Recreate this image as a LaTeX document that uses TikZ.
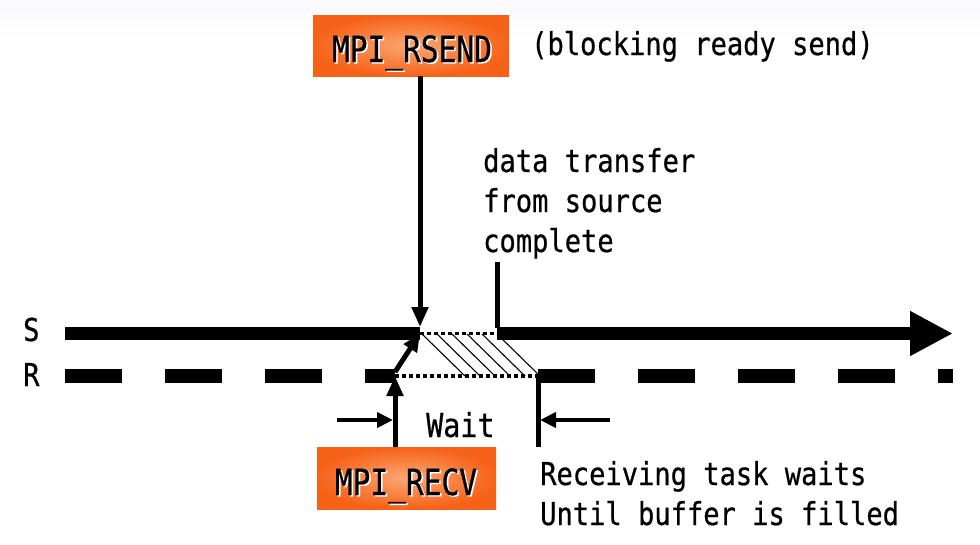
\documentclass[tikz,border=0pt]{standalone}
\usepackage{fontspec}
\usetikzlibrary{arrows.meta,calc}
\newfontfamily\txtfont[FakeStretch=0.86,FakeBold=0.6]{DejaVu Sans Mono}
\newfontfamily\bxfont[FakeStretch=0.82,FakeBold=0.6]{DejaVu Sans Mono}
\definecolor{bgtop}{RGB}{250,250,255}
\definecolor{boxout}{RGB}{247,98,25}
\definecolor{boxin}{RGB}{250,168,115}
\newcommand{\glowtxt}[1]{\makebox[0pt][l]{\hspace{1.6pt}\raisebox{-1.4pt}{\color{white}#1}}#1}
\tikzset{
  lbl/.style={anchor=base west, inner sep=0pt, font=\txtfont\fontsize{31.5}{40}\selectfont},
  boxlbl/.style={anchor=base, inner sep=0pt, font=\bxfont\fontsize{36}{40}\selectfont},
  orangebox/.style={inner sep=0pt, shading=radial, inner color=boxin, outer color=boxout},
  thickline/.style={line width=13.5pt},
  dashline/.style={line width=14pt, dash pattern=on 57pt off 43pt},
  dotline/.style={line width=3.5pt, dash pattern=on 3.5pt off 3.5pt},
  hatch/.style={line width=1.1pt},
  arrowline/.style={line width=5pt, -{Triangle[length=20pt,width=16pt]}},
  waitarrow/.style={line width=4pt, -{Triangle[length=16pt,width=15pt]}},
  tick/.style={line width=5pt},
}
\begin{document}
\begin{tikzpicture}[x=1pt,y=-1pt]
\useasboundingbox (0,0) rectangle (980,544);
\shade[top color=bgtop, bottom color=white, draw=none] (0,0) rectangle (980,40);

% named points on the S and R lines
\coordinate (sL) at (65,333.5);
\coordinate (sA) at (420,333.5);
\coordinate (sAtop) at (420,327);
\coordinate (sB) at (497,333.5);
\coordinate (sEnd) at (953,333.5);
\coordinate (tickTop) at (497,262);
\coordinate (rL) at (65,376);
\coordinate (rA) at (395,376);
\coordinate (rB) at (538,376);
\coordinate (rEnd) at (953,376);
\coordinate (rBbot) at (538,447);
\coordinate (wL) at (337,420);
\coordinate (wLtip) at (393,420);
\coordinate (wR) at (610,420);
\coordinate (wRtip) at (540,420);

% boxes
\node[orangebox, minimum width=196pt, minimum height=61pt] (rsend) at (411,45.5) {};
\node[boxlbl] (rsendtxt) at (412,62) {\glowtxt{MPI\_RSEND}};
\node[orangebox, minimum width=179pt, minimum height=62pt] (recv) at (406.5,478) {};
\node[boxlbl] (recvtxt) at (406,495) {\glowtxt{MPI\_RECV}};

% texts
\node[lbl] (blk) at (531,55) {(blocking ready send)};
\node[lbl] (dt1) at (483,172) {data transfer};
\node[lbl] (dt2) at (483,212) {from source};
\node[lbl] (dt3) at (483,252) {complete};
\node[lbl] (rc1) at (540,485) {Receiving task waits};
\node[lbl] (rc2) at (540,525) {Until buffer is filled};
\node[lbl, font=\txtfont\fontsize{33}{40}\selectfont] (wait) at (426,437) {Wait};
\node[lbl] (slab) at (23,341) {S};
\node[lbl] (rlab) at (23,386) {R};

% hatching between the lines
\foreach \k in {0,...,5}{
  \draw[hatch] ({422+15*\k},334) -- ({465+15*\k},376);
}

% S line
\draw[thickline] (sL) -- (sA);
\draw[dotline] (sA) -- (sB);
\draw[thickline, -{Triangle[length=43pt,width=42pt]}] (sB) -- (sEnd);
\draw[tick] (tickTop) -- ($(sB)+(0,-6)$);

% R line
\draw[dashline] (rL) -- (rA);
\draw[dotline] (rA) -- (rB);
\draw[dashline] (rB) -- (rEnd);
\draw[tick] (rB) -- (rBbot);

% arrows
\draw[arrowline] (rsend.south -| sA) -- (sAtop);
\draw[arrowline] (recv.north -| rA) -- (rA);
\draw[arrowline, -{Triangle[length=18pt,width=15pt]}] ($(rA)+(0,-4)$) -- (sA);
\draw[waitarrow] (wL) -- (wLtip);
\draw[waitarrow] (wR) -- (wRtip);
\end{tikzpicture}
\end{document}
